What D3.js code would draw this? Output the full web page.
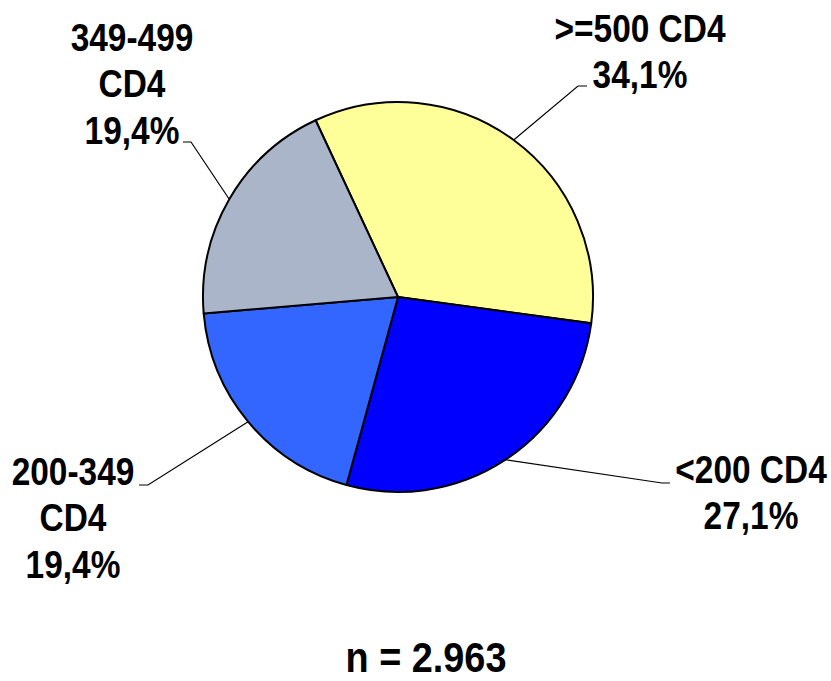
<!DOCTYPE html>
<html>
<head>
<meta charset="utf-8">
<script src="https://cdn.jsdelivr.net/npm/d3@7"></script>
<style>
  body { margin: 0; background: #fff; }
  text { font-family: "Liberation Sans Narrow", "Arial Narrow", "Liberation Sans", sans-serif; font-weight: bold; fill: #000; }
</style>
</head>
<body>
<div id="chart"></div>
<script>
// CD4 groups, share of patients (%)
var categories = [">=500 CD4", "<200 CD4", "200-349 CD4", "349-499 CD4"];
var shares = [34.1, 27.1, 19.4, 19.4];
var colors = ["#ffff99", "#0000ff", "#3366ff", "#aab5ca"];
var labelLines = [[">=500 CD4", "34,1%"], ["<200 CD4", "27,1%"], ["200-349", "CD4", "19,4%"], ["349-499", "CD4", "19,4%"]];
var totalLabel = "n = 2.963";

var w = 831;
var h = 681;
var cx = 398, cy = 297, r = 195;

// no narrow font installed, so squeeze the regular bold one
var squeeze = 0.88;

// where each leader line bends, where it stops, and where the label block sits
var leaders = [
    {elbow: [578, 86], end: [587, 86], text: [640, 42]},
    {elbow: [662, 483], end: [670, 483], text: [751, 483]},
    {elbow: [148, 485], end: [139, 485], text: [73, 485]},
    {elbow: [191, 142], end: [183, 142], text: [132, 51]}
];
var lineH = 46.5;

var data = categories.map(function(c, i) {
    return {cat: c, value: shares[i], color: colors[i], lines: labelLines[i], lead: leaders[i]};
});

var svg = d3.select("#chart")
            .append("svg")
            .attr("width", w)
            .attr("height", h);

var pie = d3.pie()
            .sort(null)
            .value(function(d) { return d.value; })
            .startAngle(-25 * Math.PI / 180)
            .endAngle(335 * Math.PI / 180);

var arc = d3.arc().innerRadius(0).outerRadius(r);

var arcs = pie(data);

var g = svg.append("g")
           .attr("transform", "translate(" + cx + "," + cy + ")");

g.selectAll("path")
    .data(arcs)
    .enter()
    .append("path")
    .attr("d", arc)
    .attr("fill", function(d) { return d.data.color; })
    .attr("stroke", "#000")
    .attr("stroke-width", 2)
    .attr("stroke-linejoin", "round");

// leader lines start on the rim at the middle of each slice
svg.selectAll("polyline.leader")
    .data(arcs)
    .enter()
    .append("polyline")
    .attr("class", "leader")
    .attr("fill", "none")
    .attr("stroke", "#000")
    .attr("stroke-width", 1.2)
    .attr("points", function(d) {
        var a = (d.startAngle + d.endAngle) / 2;
        var p0 = [cx + r * Math.sin(a), cy - r * Math.cos(a)];
        return [p0, d.data.lead.elbow, d.data.lead.end].map(function(p) { return p.join(","); }).join(" ");
    });

svg.selectAll("text.lbl")
    .data(arcs)
    .enter()
    .append("text")
    .attr("class", "lbl")
    .attr("text-anchor", "middle")
    .attr("font-size", 38)
    .attr("transform", function(d) {
        return "translate(" + d.data.lead.text[0] + "," + d.data.lead.text[1] + ") scale(" + squeeze + ",1)";
    })
    .each(function(d) {
        var t = d3.select(this);
        d.data.lines.forEach(function(s, i) {
            t.append("tspan")
                .attr("x", 0)
                .attr("y", i * lineH)
                .text(s);
        });
    });

svg.append("text")
    .attr("text-anchor", "middle")
    .attr("font-size", 43)
    .attr("transform", "translate(426,672) scale(" + squeeze + ",1)")
    .text(totalLabel);
</script>
</body>
</html>
